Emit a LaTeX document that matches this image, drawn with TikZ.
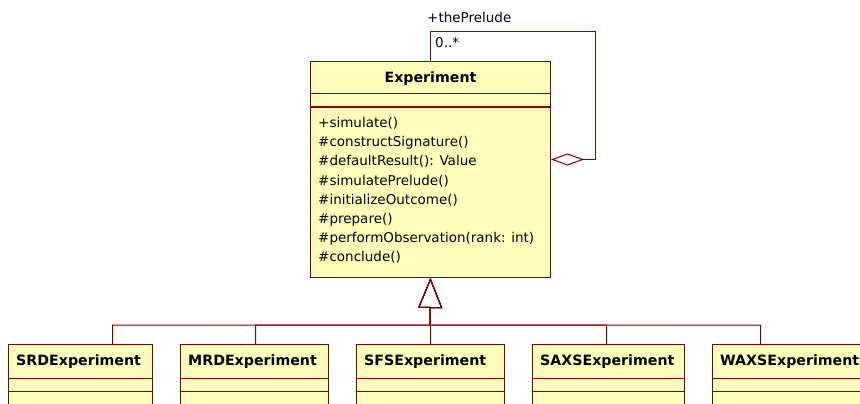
\documentclass[tikz,border=0pt]{standalone}
\usepackage{fontspec}
\setmainfont{DejaVu Sans}
\usepackage{tikz}
\usetikzlibrary{arrows.meta}
\definecolor{umlline}{RGB}{128,0,0}
\definecolor{umlfill}{RGB}{255,255,187}

\begin{document}
\begin{tikzpicture}[x=1pt, y=-1pt,
  classbox/.style={draw=umlline, fill=umlfill, line width=1pt, anchor=north west, inner sep=0pt},
  sep/.style={draw=umlline, line width=1pt},
  classname/.style={font=\fontsize{14.2}{16}\bfseries\selectfont, inner sep=0pt},
  optext/.style={font=\fontsize{13.5}{16}\selectfont, anchor=west, inner sep=0pt, text height=10pt, text depth=3pt},
  assoc/.style={draw=umlline, line width=1pt, -{Diamond[open, length=33pt, width=12pt]}},
  gen/.style={draw=umlline, line width=1pt, -{Triangle[open, length=30pt, width=24pt]}}]
\useasboundingbox (0,0) rectangle (860,404);

% base class
\node[classbox, minimum width=240pt, minimum height=216pt] (experiment) at (310,61) {};
\draw[sep] ([yshift=-33pt]experiment.north west) -- ([yshift=-33pt]experiment.north east);
\draw[sep] ([yshift=-46pt]experiment.north west) -- ([yshift=-46pt]experiment.north east);
\node[classname] (experiment-name) at ([yshift=-17.5pt]experiment.north) {Experiment};
\foreach \op [count=\i] in {+simulate(), \#constructSignature(), \#defaultResult(): Value,
    \#simulatePrelude(), \#initializeOutcome(), \#prepare(),
    \#performObservation(rank: int), \#conclude()}
  \node[optext] (op-\i) at (318, {124+19.2*(\i-1)}) {\op};

% self association
\coordinate (loopcorner) at (595,32);
\draw[assoc] (experiment.north) |- (loopcorner) |- ([yshift=10pt]experiment.east);
\node[optext] (role) at (427,19) {+thePrelude};
\node[optext] (mult) at (435,44) {0..*};

% subclasses
\coordinate (hub) at (430,325);
\foreach \id/\name/\x/\w/\drop in {srd/SRDExperiment/8/144/32, mrd/MRDExperiment/180/148/1,
    sfs/SFSExperiment/356/148/0, saxs/SAXSExperiment/532/152/-2, waxs/WAXSExperiment/712/160/-32} {
  \node[classbox, minimum width=\w pt, minimum height=80pt] (\id) at (\x,344) {};
  \draw[sep] ([yshift=-34pt]\id.north west) -- ([yshift=-34pt]\id.north east);
  \draw[sep] ([yshift=-47pt]\id.north west) -- ([yshift=-47pt]\id.north east);
  \node[classname, anchor=west] (\id-name) at ([xshift=8pt, yshift=-18pt]\id.north west) {\name};
  \draw[gen] ([xshift=\drop pt]\id.north) |- (hub) -- (experiment.south);
}
\end{tikzpicture}
\end{document}
